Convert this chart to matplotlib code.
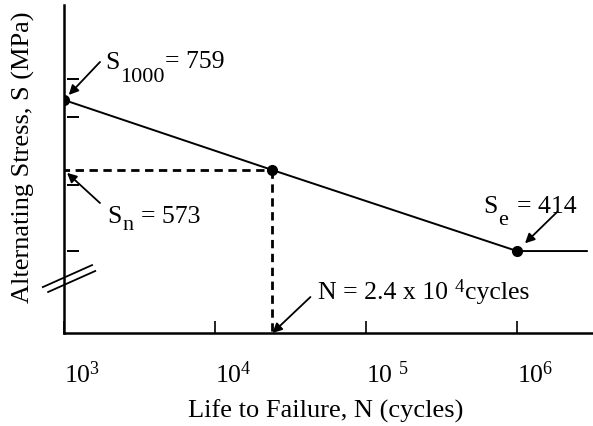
import numpy as np
import matplotlib.pyplot as plt
import matplotlib as mpl

# mpl setup
plt.rcParams['font.family'] = 'Liberation Serif'
plt.rcParams.update({'font.size': 18.5})
mpl.rcParams['mathtext.fontset'] = 'custom'
mpl.rcParams['mathtext.rm'] = 'Liberation Serif'
mpl.rcParams['mathtext.it'] = 'Liberation Serif'
mpl.rcParams['mathtext.default'] = 'regular'

# S-N curve: life (cycles) vs alternating stress (MPa)
life = [1e3, 2.4e4, 1e6]
stress = [759, 573, 414]
life_end = 2.9e6  # endurance limit carried flat past 1e6

life_ticks = [1e3, 1e4, 1e5, 1e6]
life_ticklabels = ['10$^{3}$', '10$^{4}$', '10 $^{5}$', '10$^{6}$']
stress_ticks = [826, 709, 540, 414]

PX = 0.72  # points per pixel at 100 dpi

fig = plt.figure(figsize=(5.93, 4.27), dpi=100)
ax = fig.add_axes([64 / 593, 93 / 427, 529 / 593, 328 / 427])
ax.set_xscale('log')
ax.set_yscale('log')
ax.set_xlim(1e3, 10 ** 6.503)
ax.set_ylim(298, 1111)
y_bot = ax.get_ylim()[0]

# curve + endurance limit
ax.plot(life + [life_end], stress + [stress[-1]], color='k', lw=1.4)
ax.plot(life, stress, 'o', color='k', ms=7)

# projection of the intermediate point
ax.plot([life[0], life[1]], [stress[1], stress[1]], color='k', lw=2, ls=(-4, (3, 2)))
ax.plot([life[1], life[1]], [stress[1], y_bot], color='k', lw=2, ls=(0, (3, 2)))

# axes styling
for s in ['top', 'right']:
    ax.spines[s].set_visible(False)
for s in ['left', 'bottom']:
    ax.spines[s].set_linewidth(1.8)
ax.minorticks_off()
ax.set_yticks([])
ax.set_xticks(life_ticks)
ax.set_xticklabels(life_ticklabels, ha='left')
ax.tick_params(axis='x', direction='in', length=9, width=1.2, pad=20)

# short stress marks just right of the axis
ax.hlines(stress_ticks, 0.006, 0.028, transform=ax.get_yaxis_transform(),
          color='k', lw=1.4)

# axis break
ax.plot([-0.040, 0.053], [0.140, 0.207], transform=ax.transAxes,
        clip_on=False, color='k', lw=1.3)
ax.plot([-0.030, 0.059], [0.125, 0.189], transform=ax.transAxes,
        clip_on=False, color='k', lw=1.3)

# labels
fig.text(23 / 593, 1 - 157 / 427, 'Alternating Stress, S (MPa)',
         rotation=90, ha='center', va='center', fontsize=19)
fig.text(326 / 593, 1 - 411 / 427, 'Life to Failure, N (cycles)',
         ha='center', va='center', fontsize=19)

arrow = dict(arrowstyle='-|>', color='k', lw=1.3, mutation_scale=14,
             shrinkA=0)


def pointer(xy, dx, dy, shrink):
    ax.annotate('', xy=xy, xytext=(dx * PX, dy * PX), textcoords='offset points',
                arrowprops=dict(arrow, shrinkB=shrink))


def label(xy, parts):
    # parts: (text, dx px, dy px up, fontsize)
    for txt, dx, dy, fs in parts:
        ax.annotate(txt, xy=xy, xytext=(dx * PX, dy * PX),
                    textcoords='offset points', ha='left', va='baseline',
                    fontsize=fs)


# S1000
pointer((life[0], stress[0]), 36, 38, 5)
label((life[0], stress[0]), [('S', 41, 32, 18.5), ('1000', 56, 19, 16),
                             ('= 759', 101, 33, 18.5)])

# Sn
pointer((life[0], stress[1]), 36, -33, 3)
label((life[0], stress[1]), [('S', 43, -52, 18.5), ('n', 58, -59, 16),
                             ('= 573', 77, -52, 18.5)])

# Se
pointer((life[2], stress[2]), 40, 39, 8)
label((life[2], stress[2]), [('S', -34, 39, 18.5), ('e', -19, 27, 16),
                             ('= 414', 0, 39, 18.5)])

# N at Sn
pointer((life[1], y_bot), 38, 36, 0)
label((life[1], y_bot), [('N = 2.4 x 10', 46, 35, 18.5), ('4', 182, 42, 13.5),
                         ('cycles', 193, 35, 18.5)])

plt.savefig('out.png', dpi=100)
